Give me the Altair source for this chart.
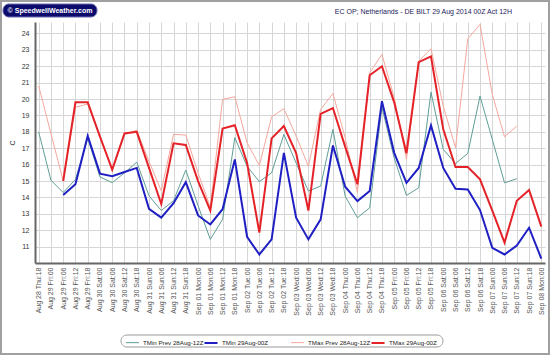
import altair as alt
import pandas as pd

# ---- data -------------------------------------------------------------
x_labels = [
    "Aug 28 Thu:18",
    "Aug 29 Fri:00", "Aug 29 Fri:06", "Aug 29 Fri:12", "Aug 29 Fri:18",
    "Aug 30 Sat:00", "Aug 30 Sat:06", "Aug 30 Sat:12", "Aug 30 Sat:18",
    "Aug 31 Sun:00", "Aug 31 Sun:06", "Aug 31 Sun:12", "Aug 31 Sun:18",
    "Sep 01 Mon:00", "Sep 01 Mon:06", "Sep 01 Mon:12", "Sep 01 Mon:18",
    "Sep 02 Tue:00", "Sep 02 Tue:06", "Sep 02 Tue:12", "Sep 02 Tue:18",
    "Sep 03 Wed:00", "Sep 03 Wed:06", "Sep 03 Wed:12", "Sep 03 Wed:18",
    "Sep 04 Thu:00", "Sep 04 Thu:06", "Sep 04 Thu:12", "Sep 04 Thu:18",
    "Sep 05 Fri:00", "Sep 05 Fri:06", "Sep 05 Fri:12", "Sep 05 Fri:18",
    "Sep 06 Sat:00", "Sep 06 Sat:06", "Sep 06 Sat:12", "Sep 06 Sat:18",
    "Sep 07 Sun:00", "Sep 07 Sun:06", "Sep 07 Sun:12", "Sep 07 Sun:18",
    "Sep 08 Mon:00",
]

tmin_prev = [18.0, 15.05, 14.3, 15.1, 17.6, 15.25, 14.9, 15.5, 16.15, 14.1,
             13.2, 13.8, 15.67, 13.5, 11.44, 12.66, 17.64, 15.9, 14.96, 15.5,
             17.84, 16.1, 14.39, 14.69, 18.15, 14.08, 12.76, 13.37, 19.5, 16.4,
             14.12, 14.59, 20.42, 16.93, 16.07, 16.68, 20.18, 17.54, 14.89, 15.14,
             None, None]
tmin_new = [None, None, 14.15, 14.8, 17.75, 15.45, 15.3, 15.55, 15.8, 13.3,
            12.77, 13.65, 14.93, 12.9, 12.35, 13.28, 16.32, 11.6, 10.52, 11.44,
            16.72, 12.76, 11.44, 12.66, 17.17, 14.65, 13.78, 14.39, 19.87, 16.72,
            14.89, 15.8, 18.39, 15.8, 14.53, 14.49, 13.23, 10.93, 10.52, 11.07,
            12.15, 10.27]
tmax_prev = [20.8, 17.9, 15.0, 19.5, 19.7, 17.8, 15.6, 17.85, 18.1, 16.2,
             14.4, 17.85, 17.8, 15.5, 13.4, 19.98, 20.14, 17.33, 15.95, 18.92,
             19.41, 17.74, 15.9, 19.37, 20.34, 17.64, 14.3, 21.6, 22.72, 20.08,
             16.32, 22.31, 23.07, 19.57, 17.03, 23.67, 24.55, 20.28, 17.7, 18.35,
             None, None]
tmax_new = [None, None, 15.0, 19.8, 19.8, 17.7, 15.7, 17.9, 18.0, 15.8,
            13.6, 17.3, 17.2, 15.0, 13.2, 18.2, 18.4, 16.1, 11.85, 17.6,
            18.35, 16.7, 13.2, 19.1, 19.45, 17.1, 14.8, 21.45, 22.0, 19.8,
            16.7, 22.25, 22.6, 18.15, 15.85, 15.85, 15.1, 13.2, 11.25, 13.8,
            14.45, 12.22]

prev_names = ["TMin Prev 28Aug-12Z", "TMax Prev 28Aug-12Z"]
prev_colors = ["#5f9e97", "#f4a89d"]
new_names = ["TMin 29Aug-00Z", "TMax 29Aug-00Z"]
new_colors = ["#1f1fc4", "#e42228"]
y_ticks = list(range(11, 25))

title_text = "EC OP; Netherlands - DE BILT 29 Aug 2014 00Z Act 12H"
logo_text = "\u00a9 SpeedwellWeather.com"


def long_table(names, series):
    rows = []
    for name, vals in zip(names, series):
        for lab, v in zip(x_labels, vals):
            if v is not None:
                rows.append({"time": lab, "series": name, "temp": v})
    return pd.DataFrame(rows)


df_prev = long_table(prev_names, [tmin_prev, tmax_prev])
df_new = long_table(new_names, [tmin_new, tmax_new])

FONT = "Liberation Sans"
W, H = 510, 241
PAD_L, PAD_T = 35, 22

x_enc = alt.X("time:N", sort=x_labels,
              scale=alt.Scale(type="point", padding=0.3, domain=x_labels),
              axis=alt.Axis(title=None, labelAngle=-90, labelAlign="right",
                            labelBaseline="middle", labelPadding=4,
                            labelFont=FONT, labelFontSize=7, labelColor="#555",
                            labelOverlap=False, ticks=False,
                            domainColor="#666", domainWidth=2,
                            grid=True, gridColor="#d6d6d6", gridWidth=1))
y_enc = alt.Y("temp:Q",
              scale=alt.Scale(domain=[10, 24.7], nice=False, zero=False),
              axis=alt.Axis(values=y_ticks, title="C", titleFont=FONT,
                            titleFontSize=7, titleFontWeight="normal",
                            titleColor="#333", titlePadding=6,
                            labelFont=FONT, labelFontSize=7, labelColor="#333",
                            labelPadding=6, ticks=False,
                            domainColor="#666", domainWidth=2,
                            grid=True, gridColor="#d6d6d6", gridWidth=1))


def leg(x, col_pad, width):
    return alt.Legend(title=None, orient="none", legendX=x, legendY=313,
                      direction="horizontal", columns=2, gridAlign="all",
                      symbolType="stroke", symbolSize=170,
                      symbolStrokeWidth=width,
                      labelFont=FONT, labelFontSize=6.2, labelColor="#222",
                      labelOffset=3, columnPadding=col_pad, padding=0)


thin = alt.Chart(df_prev).mark_line(strokeWidth=1, strokeJoin="miter").encode(
    x=x_enc, y=y_enc,
    color=alt.Color("series:N",
                    scale=alt.Scale(domain=prev_names, range=prev_colors),
                    legend=leg(90, 82, 1)),
)

thick = alt.Chart(df_new).mark_line(strokeWidth=2, strokeJoin="miter").encode(
    x=x_enc, y=y_enc,
    stroke=alt.Stroke("series:N",
                      scale=alt.Scale(domain=new_names, range=new_colors),
                      legend=leg(168, 97, 2)),
)

one = pd.DataFrame({"t": [title_text], "l": [logo_text]})

frame = alt.Chart(one).mark_rect(fill=None, stroke="#a0a0a0", strokeWidth=2).encode(
    x=alt.value(-PAD_L + 1), x2=alt.value(550 - PAD_L - 1),
    y=alt.value(-PAD_T + 1), y2=alt.value(355 - PAD_T - 1))

legend_box = alt.Chart(one).mark_rect(fill=None, stroke="#9a9a9a",
                                      strokeWidth=1, cornerRadius=7).encode(
    x=alt.value(121 - PAD_L), x2=alt.value(443 - PAD_L),
    y=alt.value(335 - PAD_T), y2=alt.value(347 - PAD_T))

logo_box = alt.Chart(one).mark_rect(fill="#0b0b6b", stroke="#6c6cb0",
                                    strokeWidth=1, cornerRadius=6).encode(
    x=alt.value(3 - PAD_L), x2=alt.value(97 - PAD_L),
    y=alt.value(4 - PAD_T), y2=alt.value(17 - PAD_T))

logo = alt.Chart(one).mark_text(font=FONT, fontSize=7, fontWeight="bold",
                                color="white", align="center",
                                baseline="middle").encode(
    x=alt.value(50 - PAD_L), y=alt.value(11 - PAD_T), text="l:N")

title = alt.Chart(one).mark_text(font=FONT, fontSize=7, color="#1c1c5c",
                                 align="right", baseline="middle").encode(
    x=alt.value(512 - PAD_L), y=alt.value(12 - PAD_T), text="t:N")

chart = alt.layer(thin, thick, frame, legend_box, logo_box, logo, title).properties(
    width=W, height=H,
    padding={"left": PAD_L, "top": PAD_T, "right": 550 - PAD_L - W,
             "bottom": 355 - PAD_T - H},
    autosize=alt.AutoSizeParams(type="none"),
    background="white",
).configure_view(stroke=None)

chart.save("out.html", embed_options={"renderer": "svg", "actions": False})
